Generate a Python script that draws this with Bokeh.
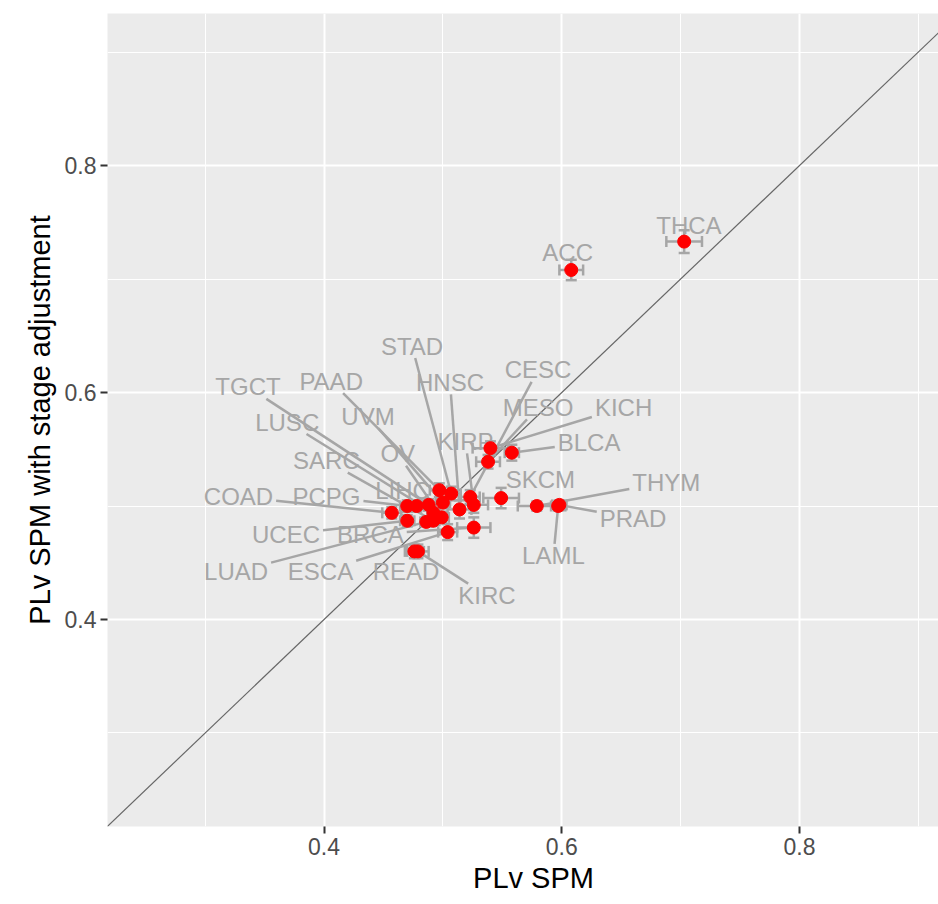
import numpy as np
from bokeh.plotting import figure
from bokeh.models import ColumnDataSource, Whisker, TeeHead, Slope, FixedTicker, Range1d, Title
from bokeh.core.properties import value
from bokeh.embed import file_html
from bokeh.resources import INLINE

# ---- data ----
cancer = ["ACC", "THCA", "KICH", "BLCA", "MESO", "CESC", "SKCM", "THYM", "PRAD", "LAML",
          "COAD", "PCPG", "LIHC", "UCEC", "LUAD", "ESCA", "READ", "KIRC", "BRCA", "STAD",
          "PAAD", "UVM", "TGCT", "LUSC", "SARC", "OV", "HNSC", "KIRP"]
plv_spm = [0.608, 0.703, 0.540, 0.558, 0.538, 0.523, 0.549, 0.579, 0.598, 0.597,
           0.457, 0.470, 0.478, 0.470, 0.486, 0.504, 0.476, 0.479, 0.526, 0.507,
           0.497, 0.500, 0.488, 0.492, 0.492, 0.499, 0.514, 0.526]
plv_spm_stage = [0.708, 0.733, 0.551, 0.547, 0.539, 0.508, 0.507, 0.500, 0.501, 0.500,
                 0.494, 0.500, 0.500, 0.487, 0.486, 0.477, 0.460, 0.460, 0.481, 0.511,
                 0.514, 0.503, 0.501, 0.494, 0.487, 0.490, 0.497, 0.501]
x_err = [0.010, 0.015, 0.015, 0.006, 0.010, 0.008, 0.015, 0.016, 0.006, 0.006,
         0.008, 0.006, 0.006, 0.006, 0.005, 0.008, 0.008, 0.009, 0.014, 0.008,
         0.008, 0.006, 0.006, 0.005, 0.005, 0.006, 0.010, 0.012]
y_err = [0.009, 0.010, 0.006, 0.007, 0.006, 0.006, 0.009, 0.004, 0.004, 0.004,
         0.005, 0.005, 0.005, 0.005, 0.004, 0.007, 0.006, 0.006, 0.009, 0.006,
         0.006, 0.005, 0.005, 0.004, 0.004, 0.005, 0.008, 0.007]

# repelled label positions (data units)
label_x = [0.605, 0.707, 0.652, 0.623, 0.580, 0.580, 0.582, 0.688, 0.660, 0.593,
           0.328, 0.402, 0.466, 0.368, 0.326, 0.397, 0.469, 0.537, 0.439, 0.474,
           0.406, 0.437, 0.336, 0.369, 0.402, 0.462, 0.506, 0.519]
label_y = [0.723, 0.747, 0.587, 0.556, 0.587, 0.620, 0.523, 0.521, 0.489, 0.456,
           0.508, 0.508, 0.514, 0.475, 0.442, 0.442, 0.442, 0.421, 0.475, 0.641,
           0.610, 0.579, 0.605, 0.574, 0.540, 0.546, 0.609, 0.557]

X0, X1 = 0.2178, 0.917
Y0, Y1 = 0.2176, 0.934
W, H = 938, 904
BL, BR, BT, BB = 107, 0, 13, 78
FONT = "Liberation Sans"
LABEL_PX = 24
GRAY = "#A6A6A6"

p = figure(width=W, height=H, x_range=Range1d(X0, X1), y_range=Range1d(Y0, Y1),
           output_backend="svg", toolbar_location=None, title=None,
           min_border_left=BL, min_border_right=BR, min_border_top=BT, min_border_bottom=BB,
           background_fill_color="#EBEBEB", border_fill_color="white", outline_line_color=None)

# axes / grid
p.xaxis.ticker = FixedTicker(ticks=[0.4, 0.6, 0.8], minor_ticks=[0.3, 0.5, 0.7, 0.9])
p.yaxis.ticker = FixedTicker(ticks=[0.4, 0.6, 0.8], minor_ticks=[0.3, 0.5, 0.7, 0.9])
for g in (p.xgrid, p.ygrid):
    g.grid_line_color = "white"
    g.grid_line_width = 2
    g.minor_grid_line_color = "white"
    g.minor_grid_line_width = 1
for ax in (p.xaxis, p.yaxis):
    ax.axis_line_color = None
    ax.major_tick_line_color = "#333333"
    ax.major_tick_line_width = 2
    ax.major_tick_out = 7
    ax.major_tick_in = 0
    ax.minor_tick_out = 0
    ax.minor_tick_in = 0
    ax.major_label_text_font = FONT
    ax.major_label_text_font_size = "23px"
    ax.major_label_text_color = "#4D4D4D"
    ax.major_label_standoff = 4
    ax.axis_label_text_font = FONT
    ax.axis_label_text_font_size = "29px"
    ax.axis_label_text_font_style = "normal"
    ax.axis_label_text_color = "black"
    ax.axis_label_standoff = 6
p.yaxis.axis_label = "PLv SPM with stage adjustment"

# x-axis title as a below-panel title, shifted to the original panel centre
XT = "PLv SPM"
xt_width = 29 * (0.667 + 0.556 + 0.5 + 0.278 + 0.667 + 0.667 + 0.833)
p.add_layout(Title(text=XT, align="left", offset=533 - BL - xt_width / 2, standoff=5,
                   text_font=FONT, text_font_size="29px", text_font_style="normal",
                   text_color="black"), "below")

# identity line
p.add_layout(Slope(gradient=1, y_intercept=0, line_color="#666666", line_width=1.2, level="underlay"))

# label segments (point -> label box edge)
sx = (W - BL - BR) / (X1 - X0)
sy = (H - BT - BB) / (Y1 - Y0)
char_w = {"A": .667, "B": .667, "C": .722, "D": .722, "E": .667, "G": .778, "H": .722,
          "I": .278, "K": .667, "L": .556, "M": .833, "N": .722, "O": .778, "P": .667,
          "R": .722, "S": .667, "T": .611, "U": .722, "V": .667, "Y": .667}
sx0, sy0, sx1, sy1 = [], [], [], []
for name, px, py, lx, ly in zip(cancer, plv_spm, plv_spm_stage, label_x, label_y):
    hw = LABEL_PX * sum(char_w.get(c, .667) for c in name) / 2 + 3
    hh = 12
    dx = (px - lx) * sx
    dy = (py - ly) * sy
    t = min(hw / abs(dx) if dx else 1e9, hh / abs(dy) if dy else 1e9)
    length = np.hypot(dx, dy)
    if t >= 1 or (1 - t) * length < 16:
        continue
    sx0.append(lx + t * (px - lx))
    sy0.append(ly + t * (py - ly))
    sx1.append(px)
    sy1.append(py)
p.segment(x0=sx0, y0=sy0, x1=sx1, y1=sy1, line_color=GRAY, line_width=2.5)

# labels
p.text(x=label_x, y=label_y, text=cancer, text_align="center", text_baseline="middle",
       text_font=value(FONT), text_font_size=f"{LABEL_PX}px", text_color=GRAY)

# error bars
src = ColumnDataSource(dict(
    x=plv_spm, y=plv_spm_stage,
    xl=[a - e for a, e in zip(plv_spm, x_err)], xu=[a + e for a, e in zip(plv_spm, x_err)],
    yl=[a - e for a, e in zip(plv_spm_stage, y_err)], yu=[a + e for a, e in zip(plv_spm_stage, y_err)],
))
def tee():
    return TeeHead(size=11, line_color=GRAY, line_width=2.5)
p.add_layout(Whisker(source=src, base="x", lower="yl", upper="yu", dimension="height",
                     line_color=GRAY, line_width=2.5, lower_head=tee(), upper_head=tee()))
p.add_layout(Whisker(source=src, base="y", lower="xl", upper="xu", dimension="width",
                     line_color=GRAY, line_width=2.5, lower_head=tee(), upper_head=tee()))

# points
p.scatter(x="x", y="y", source=src, size=13, fill_color="red", line_color="red")

open("out.html", "w").write(file_html(p, INLINE))
